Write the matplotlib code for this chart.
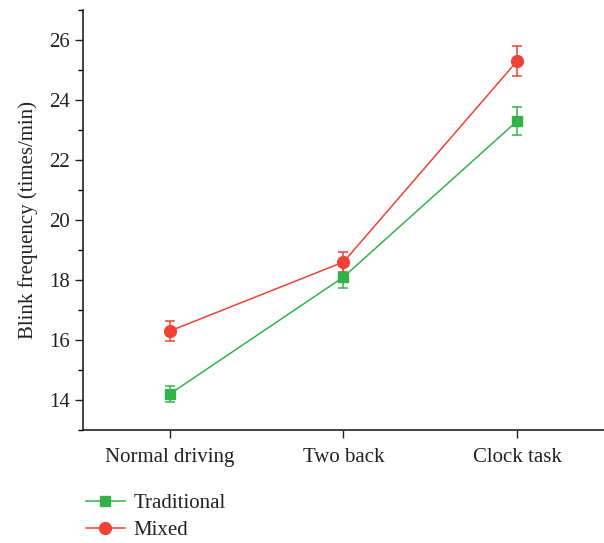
import matplotlib.pyplot as plt

# Blink frequency by driving condition
conditions = ["Normal driving", "Two back", "Clock task"]
traditional = [14.2, 18.1, 23.3]
traditional_err = [0.28, 0.37, 0.47]
mixed = [16.3, 18.6, 25.3]
mixed_err = [0.33, 0.33, 0.5]

green = "#33b24a"
red = "#ef4136"

plt.rcParams["font.family"] = ["Liberation Serif", "DejaVu Serif"]
plt.rcParams["font.size"] = 15

fig = plt.figure(figsize=(6.04, 5.43), dpi=100)
ax = fig.add_axes([0.1374, 0.208, 0.8626, 0.7736])

x = list(range(len(conditions)))
ax.errorbar(x, traditional, yerr=traditional_err, color=green, marker="s",
            markersize=6.5, linewidth=1.1, capsize=3.5, elinewidth=1.1,
            capthick=1.1, label="Traditional")
ax.errorbar(x, mixed, yerr=mixed_err, color=red, marker="o",
            markersize=8.5, linewidth=1.1, capsize=3.5, elinewidth=1.1,
            capthick=1.1, label="Mixed")

ax.set_xlim(-0.5, 2.5)
ax.set_ylim(13, 27)
ax.set_xticks(x)
ax.set_xticklabels(conditions)
ax.set_yticks([14, 16, 18, 20, 22, 24, 26])
ax.set_yticks([13, 15, 17, 19, 21, 23, 25, 27], minor=True)
ax.tick_params(axis="both", direction="out", length=6, width=1, colors="#222222",
               labelcolor="#222222")
ax.tick_params(axis="y", which="minor", direction="out", length=3.5, width=1)
ax.tick_params(axis="x", pad=7)
ax.set_ylabel("Blink frequency (times/min)", color="#222222", labelpad=8)

for side in ["top", "right"]:
    ax.spines[side].set_visible(False)
for side in ["left", "bottom"]:
    ax.spines[side].set_linewidth(1.2)
    ax.spines[side].set_color("#222222")

handles, labels = ax.get_legend_handles_labels()
handles = [h[0] for h in handles]
fig.legend(handles, labels, loc="upper left", bbox_to_anchor=(0.135, 0.099),
           frameon=False, handlelength=1.9, handletextpad=0.4,
           labelspacing=0.38, fontsize=15, labelcolor="#222222",
           borderaxespad=0, borderpad=0.2)

fig.savefig("out.png", dpi=100)
